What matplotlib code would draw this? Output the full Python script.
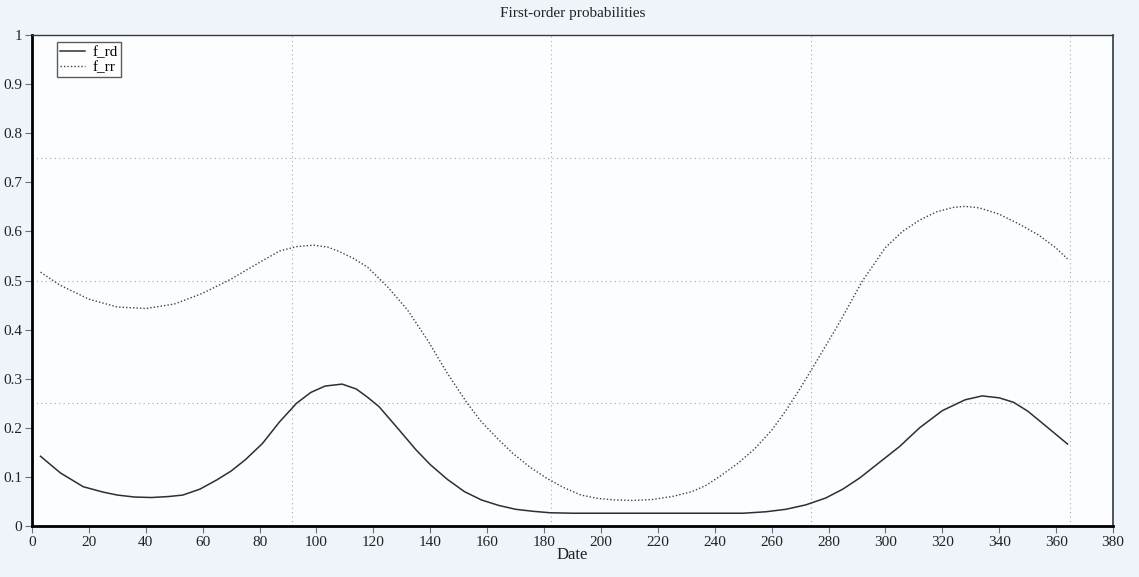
import numpy as np
import matplotlib.pyplot as plt

plt.rcParams['font.family'] = ['Liberation Serif', 'DejaVu Serif']

# day of year
days_rd = [3, 10, 18, 25, 30, 36, 42, 48, 53, 59, 65, 70, 75, 81, 87, 93, 98, 103, 109,
           114, 118, 122, 129, 135, 140, 146, 152, 158, 164, 170, 176, 182, 190, 200, 210,
           220, 230, 240, 250, 258, 265, 272, 279, 285, 291, 298, 305, 312, 320, 328, 334,
           340, 345, 350, 354, 359, 364]
f_rd = [0.142, 0.108, 0.08, 0.069, 0.063, 0.059, 0.058, 0.06, 0.063, 0.075, 0.094, 0.112,
        0.135, 0.168, 0.212, 0.25, 0.272, 0.285, 0.289, 0.279, 0.262, 0.243, 0.196, 0.155,
        0.125, 0.095, 0.07, 0.053, 0.042, 0.034, 0.03, 0.027, 0.026, 0.026, 0.026, 0.026,
        0.026, 0.026, 0.026, 0.029, 0.034, 0.043, 0.057, 0.075, 0.098, 0.13, 0.162, 0.2,
        0.235, 0.257, 0.265, 0.261, 0.252, 0.234, 0.215, 0.191, 0.167]

days_rr = [3, 10, 20, 30, 40, 50, 60, 70, 80, 87, 93, 99, 104, 108, 113, 118, 125, 132,
           139, 146, 153, 158, 164, 169, 175, 181, 187, 193, 199, 205, 211, 218, 225, 232,
           237, 242, 248, 254, 260, 265, 270, 275, 283, 292, 300, 306, 312, 318, 324, 328,
           333, 340, 347, 354, 360, 364]
f_rr = [0.517, 0.49, 0.462, 0.446, 0.443, 0.452, 0.474, 0.503, 0.537, 0.56, 0.569, 0.572,
        0.568, 0.559, 0.545, 0.527, 0.487, 0.44, 0.379, 0.311, 0.25, 0.212, 0.176, 0.148,
        0.12, 0.097, 0.078, 0.063, 0.056, 0.053, 0.052, 0.054, 0.06, 0.07, 0.083, 0.102,
        0.127, 0.157, 0.195, 0.235, 0.28, 0.328, 0.406, 0.5, 0.567, 0.6, 0.623, 0.64,
        0.649, 0.651, 0.648, 0.635, 0.615, 0.592, 0.566, 0.544]

xgrid = [91.25, 182.5, 273.75, 365]
ygrid = [0.25, 0.5, 0.75]

fig = plt.figure(figsize=(11.39, 5.77), dpi=100, facecolor='#eef4f9')
ax = fig.add_axes([0.0281, 0.0884, 0.9491, 0.8509])
ax.set_facecolor('#fbfdfe')

ax.plot(days_rd, f_rd, color='#2a2f38', lw=1.1, label='f_rd')
ax.plot(days_rr, f_rr, color='#3a4150', lw=1.0, ls=(0, (1, 1.5)), label='f_rr')

for g in xgrid:
    ax.axvline(g, color='#a3acb6', lw=0.8, ls=(0, (1, 3)), zorder=0)
for g in ygrid:
    ax.axhline(g, color='#a3acb6', lw=0.8, ls=(0, (1, 3)), zorder=0)

ax.set_xlim(0, 380)
ax.set_ylim(0, 1)
ax.set_xticks(np.arange(0, 381, 20))
ax.set_yticks([0, 0.1, 0.2, 0.3, 0.4, 0.5, 0.6, 0.7, 0.8, 0.9, 1])
ax.set_yticklabels(['0', '0.1', '0.2', '0.3', '0.4', '0.5', '0.6', '0.7', '0.8', '0.9', '1'])
ax.tick_params(direction='out', length=5, width=0.8, color='#6a7280',
               labelsize=11, labelcolor='#222222', pad=2)

ax.spines['left'].set_linewidth(2)
ax.spines['bottom'].set_linewidth(2)
ax.spines['top'].set_linewidth(1)
ax.spines['right'].set_linewidth(1.2)
for s in ['top', 'right']:
    ax.spines[s].set_color('#333a44')

ax.set_title('First-order probabilities', fontsize=11, pad=13, color='#222222')
ax.set_xlabel('Date', fontsize=12, labelpad=-1, color='#222222')

leg = ax.legend(loc='upper left', bbox_to_anchor=(0.0235, 0.985), fontsize=11,
                handlelength=1.6, handletextpad=0.5, borderpad=0.2,
                labelspacing=0.1, frameon=True, fancybox=False, borderaxespad=0)
leg.get_frame().set_edgecolor('#333333')
leg.get_frame().set_linewidth(1)

plt.savefig('out.png', dpi=100, facecolor=fig.get_facecolor())
